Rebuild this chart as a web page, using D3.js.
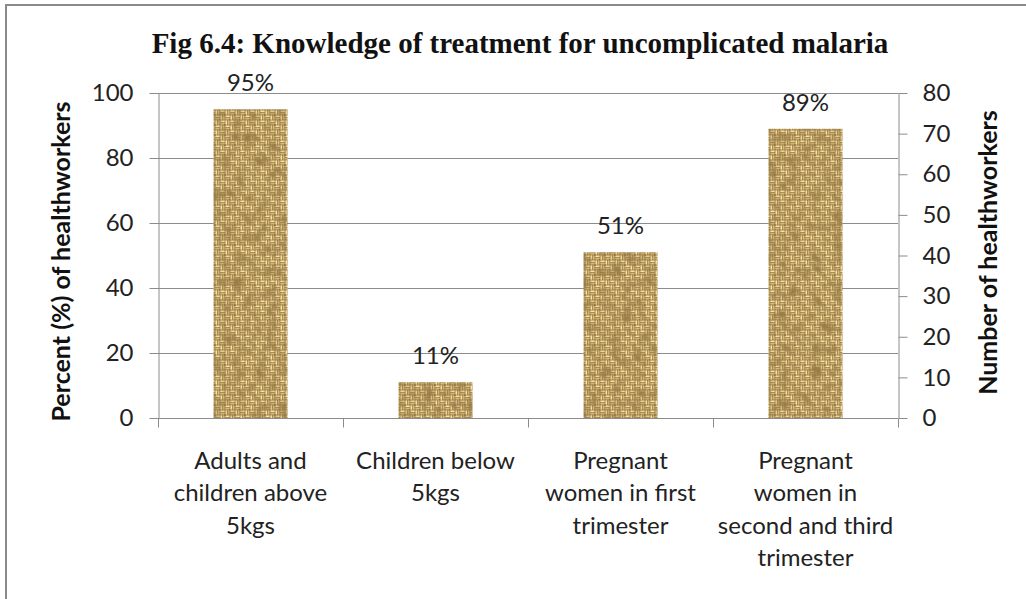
<!DOCTYPE html>
<html>
<head>
<meta charset="utf-8">
<script src="https://cdn.jsdelivr.net/npm/d3@7"></script>
<style>
  html, body { margin: 0; padding: 0; background: #fff; }
  svg { display: block; }
</style>
</head>
<body>
<div id="chart"></div>
<script>
// data
const title = 'Fig 6.4: Knowledge of treatment for uncomplicated malaria';
const categories = [
  ['Adults and', 'children above', '5kgs'],
  ['Children below', '5kgs'],
  ['Pregnant', 'women in first', 'trimester'],
  ['Pregnant', 'women in', 'second and third', 'trimester'],
];
const percentValues = [95, 11, 51, 89];
const leftTicks = [0, 20, 40, 60, 80, 100];
const rightTicks = [0, 10, 20, 30, 40, 50, 60, 70, 80];
const leftTitle = 'Percent (%) of healthworkers';
const rightTitle = 'Number of healthworkers';

// layout
const width = 1026, height = 599;
const plot = { left: 158, right: 898, top: 93, bottom: 418 };
const bodyFont = "Lato, 'Open Sans', sans-serif";
const axisColor = '#8c8c8c';

const svg = d3.select('#chart').append('svg')
  .attr('width', width).attr('height', height);

// #region burlap texture
const defs = svg.append('defs');
const pat = defs.append('pattern')
  .attr('id', 'burlap')
  .attr('patternUnits', 'userSpaceOnUse')
  .attr('width', 10).attr('height', 10);
pat.append('rect').attr('width', 10).attr('height', 10).attr('fill', '#8e6c34');
// basket weave: horizontal threads in TL/BR, vertical in TR/BL
[[0, 0, 'h'], [5, 5, 'h'], [5, 0, 'v'], [0, 5, 'v']].forEach(([x, y, dir]) => {
  for (let k = 0; k < 2; k++) {
    const off = 0.4 + k * 2.4;
    pat.append('rect')
      .attr('x', dir === 'h' ? x + 0.3 : x + off)
      .attr('y', dir === 'h' ? y + off : y + 0.3)
      .attr('width', dir === 'h' ? 4.4 : 1.8)
      .attr('height', dir === 'h' ? 1.8 : 4.4)
      .attr('fill', k === 0 ? '#f4e2ab' : '#d9bb78');
  }
});
pat.append('rect').attr('x', 4.5).attr('y', 4.5).attr('width', 1).attr('height', 1).attr('fill', '#5a401c');
pat.append('rect').attr('x', 9.4).attr('y', 9.4).attr('width', 0.8).attr('height', 0.8).attr('fill', '#5a401c');

const noise = defs.append('filter').attr('id', 'grain')
  .attr('x', 0).attr('y', 0).attr('width', 1).attr('height', 1);
noise.append('feTurbulence').attr('type', 'fractalNoise')
  .attr('baseFrequency', 0.09).attr('numOctaves', 2).attr('seed', 7).attr('result', 'n');
noise.append('feColorMatrix').attr('in', 'n').attr('type', 'matrix')
  .attr('values', '0 0 0 0 0.32  0 0 0 0 0.2  0 0 0 0 0.06  0 0 0 -2 1.25')
  .attr('result', 'shade');
noise.append('feComposite').attr('in', 'shade').attr('in2', 'SourceGraphic').attr('operator', 'atop');
// #endregion

// frame (only top and left edges visible)
svg.append('line').attr('x1', 5).attr('x2', width).attr('y1', 5).attr('y2', 5)
  .attr('stroke', '#8a8a8a').attr('stroke-width', 2);
svg.append('line').attr('x1', 6).attr('x2', 6).attr('y1', 5).attr('y2', height)
  .attr('stroke', '#8a8a8a').attr('stroke-width', 2);

// scales
const x = d3.scaleBand().domain(d3.range(categories.length))
  .range([plot.left, plot.right]).paddingInner(0.6).paddingOuter(0.3);
const xOuter = d3.scaleBand().domain(d3.range(categories.length))
  .range([plot.left, plot.right]);
const yLeft = d3.scaleLinear().domain([0, 100]).range([plot.bottom, plot.top]);
const yRight = d3.scaleLinear().domain([0, 80]).range([plot.bottom, plot.top]);

// gridlines
svg.append('g').selectAll('line').data(leftTicks.filter(d => d > 0)).join('line')
  .attr('x1', plot.left).attr('x2', plot.right)
  .attr('y1', d => yLeft(d) + 0.5).attr('y2', d => yLeft(d) + 0.5)
  .attr('stroke', axisColor).attr('stroke-width', 1);

// bars
svg.append('g').selectAll('rect').data(percentValues).join('rect')
  .attr('x', (d, i) => x(i))
  .attr('y', d => yLeft(d))
  .attr('width', x.bandwidth())
  .attr('height', d => yLeft(0) - yLeft(d))
  .attr('fill', 'url(#burlap)')
  .attr('filter', 'url(#grain)');

// value labels
svg.append('g').selectAll('text').data(percentValues).join('text')
  .attr('x', (d, i) => x(i) + x.bandwidth() / 2)
  .attr('y', d => yLeft(d) - 18)
  .attr('text-anchor', 'middle')
  .style('font-family', bodyFont).style('font-size', '24px').style('fill', '#222')
  .text(d => d + '%');

// axes
function styleAxis(g) {
  g.select('.domain').attr('stroke', axisColor);
  g.selectAll('.tick line').attr('stroke', axisColor);
  g.selectAll('.tick text')
    .style('font-family', bodyFont).style('font-size', '24px').style('fill', '#222');
}

svg.append('g').attr('transform', `translate(${plot.left + 0.5},0)`)
  .call(d3.axisLeft(yLeft).tickValues(leftTicks).tickSize(9).tickPadding(16).tickSizeOuter(0))
  .call(styleAxis);

svg.append('g').attr('transform', `translate(${plot.right + 0.5},0)`)
  .call(d3.axisRight(yRight).tickValues(rightTicks).tickSize(9).tickPadding(15).tickSizeOuter(0))
  .call(styleAxis);

// x axis with ticks on category boundaries
const xAxis = svg.append('g').attr('transform', `translate(0,${plot.bottom + 0.5})`);
xAxis.append('line').attr('x1', plot.left).attr('x2', plot.right)
  .attr('stroke', axisColor);
xAxis.selectAll('line.tick').data(d3.range(categories.length + 1)).join('line')
  .attr('class', 'tick')
  .attr('x1', i => (i < categories.length ? xOuter(i) : plot.right) + 0.5)
  .attr('x2', i => (i < categories.length ? xOuter(i) : plot.right) + 0.5)
  .attr('y1', 0).attr('y2', 9)
  .attr('stroke', axisColor);

const catLabels = xAxis.selectAll('text').data(categories).join('text')
  .attr('x', (d, i) => xOuter(i) + xOuter.bandwidth() / 2)
  .attr('y', 50)
  .attr('text-anchor', 'middle')
  .style('font-family', bodyFont).style('font-size', '24px').style('fill', '#222');
catLabels.selectAll('tspan').data(d => d).join('tspan')
  .attr('x', function () { return this.parentNode.getAttribute('x'); })
  .attr('dy', (d, i) => (i === 0 ? 0 : 32.5))
  .text(d => d);

// axis titles
svg.append('text')
  .attr('transform', `translate(70,${(plot.top + plot.bottom) / 2 + 6}) rotate(-90)`)
  .attr('text-anchor', 'middle')
  .style('font-family', bodyFont).style('font-size', '25px').style('font-weight', 'bold').style('fill', '#111')
  .text(leftTitle);

svg.append('text')
  .attr('transform', `translate(997,${(plot.top + plot.bottom) / 2 - 3}) rotate(-90)`)
  .attr('text-anchor', 'middle')
  .style('font-family', bodyFont).style('font-size', '25px').style('font-weight', 'bold').style('fill', '#111')
  .text(rightTitle);

// title
svg.append('text')
  .attr('x', 520).attr('y', 53)
  .attr('text-anchor', 'middle')
  .style('font-family', "'Liberation Serif', 'Times New Roman', serif")
  .style('font-size', '29px').style('font-weight', 'bold').style('fill', '#111')
  .text(title);
</script>
</body>
</html>
